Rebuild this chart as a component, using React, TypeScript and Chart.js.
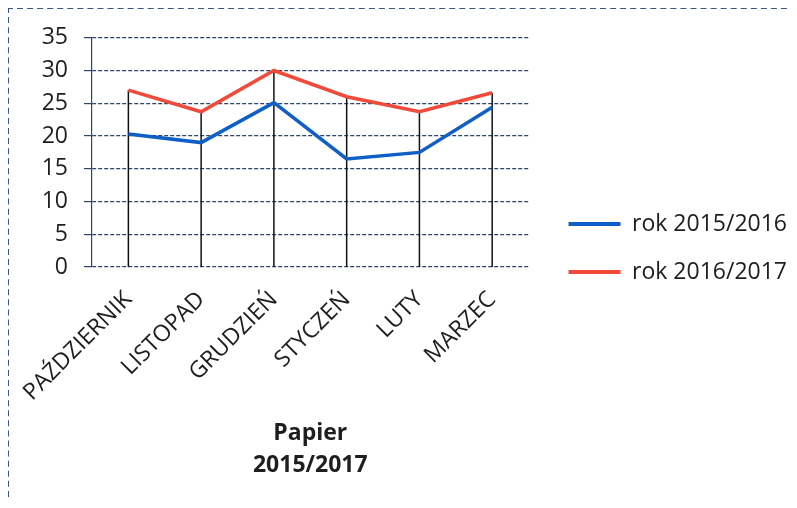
import React, { useEffect, useRef } from 'react';
import { Chart, registerables } from 'chart.js';

Chart.register(...registerables);

const categories = ['PAŹDZIERNIK', 'LISTOPAD', 'GRUDZIEŃ', 'STYCZEŃ', 'LUTY', 'MARZEC'];
const series1Label = 'rok 2015/2016';
const series1 = [20.3, 19.0, 25.1, 16.5, 17.5, 24.4];
const series2Label = 'rok 2016/2017';
const series2 = [27.0, 23.7, 30.0, 26.0, 23.7, 26.6];
const yMin = 0;
const yMax = 35;
const yStep = 5;
const axisTitle = ['Papier', '2015/2017'];

const FONT = '"Open Sans", "Noto Sans", sans-serif';
const TEXT = '#1e1e1e';
const GRID = '#2f4466';
const BLUE = '#0f5fc6';
const RED = '#f04b3a';

const dropLines = {
  id: 'dropLines',
  beforeDatasetsDraw(chart: any) {
    const { ctx, scales } = chart;
    const x = scales.x;
    const y = scales.y;
    ctx.save();
    ctx.strokeStyle = '#111111';
    ctx.lineWidth = 1.5;
    categories.forEach((_, i) => {
      const top = Math.max(series1[i], series2[i]);
      const px = x.getPixelForValue(i);
      ctx.beginPath();
      ctx.moveTo(px, y.getPixelForValue(top));
      ctx.lineTo(px, y.getPixelForValue(0));
      ctx.stroke();
    });
    ctx.restore();
  },
};

export default function App() {
  const ref = useRef<HTMLCanvasElement | null>(null);

  useEffect(() => {
    if (!ref.current) return;
    const chart = new Chart(ref.current, {
      type: 'line',
      data: {
        labels: categories,
        datasets: [
          {
            label: series1Label,
            data: series1,
            borderColor: BLUE,
            backgroundColor: BLUE,
            borderWidth: 3.5,
            pointRadius: 0,
            tension: 0,
          },
          {
            label: series2Label,
            data: series2,
            borderColor: RED,
            backgroundColor: RED,
            borderWidth: 3.5,
            pointRadius: 0,
            tension: 0,
          },
        ],
      },
      options: {
        animation: false,
        responsive: false,
        devicePixelRatio: 1,
        layout: { padding: { top: 0, bottom: 12, left: 0, right: 0 } },
        plugins: {
          tooltip: { enabled: false },
          legend: {
            position: 'right',
            align: 'center',
            maxWidth: 320,
            labels: {
              boxWidth: 52,
              boxHeight: 4,
              padding: 25,
              color: TEXT,
              font: { family: FONT, size: 23 },
              generateLabels: (c: any) =>
                (Chart.defaults.plugins.legend.labels as any)
                  .generateLabels(c)
                  .map((l: any) => ({ ...l, lineWidth: 0 })),
            },
          },
        },
        scales: {
          x: {
            type: 'category',
            offset: true,
            grid: { display: false, drawTicks: false },
            border: { display: false },
            ticks: {
              color: TEXT,
              font: { family: FONT, size: 23 },
              maxRotation: 45,
              minRotation: 45,
              autoSkip: false,
              padding: 19,
            },
            title: {
              display: true,
              text: axisTitle,
              color: TEXT,
              font: { family: FONT, size: 23, weight: 'bold', lineHeight: '32px' },
              padding: { top: 0, bottom: 7 },
            },
            afterFit: (s: any) => {
              s.height = 221;
              s.paddingLeft = 0;
              s.paddingRight = 0;
            },
          },
          xTop: {
            type: 'linear',
            position: 'top',
            display: true,
            grid: { display: false, drawTicks: false },
            border: { display: false },
            ticks: { display: false },
            afterFit: (s: any) => {
              s.height = 29.5;
            },
          },
          y: {
            type: 'linear',
            min: yMin,
            max: yMax,
            ticks: {
              stepSize: yStep,
              color: TEXT,
              font: { family: FONT, size: 23 },
              padding: 16,
            },
            grid: {
              color: GRID,
              lineWidth: 1.2,
              tickLength: 8,
              drawTicks: true,
            },
            border: { display: true, color: GRID, width: 1.2, dash: [4, 2] },
            afterFit: (s: any) => {
              s.width = 84;
            },
          },
          yRight: {
            type: 'linear',
            position: 'right',
            display: true,
            grid: { display: false, drawTicks: false },
            border: { display: false },
            ticks: { display: false },
            afterFit: (s: any) => {
              s.width = 15;
            },
          },
        },
      },
      plugins: [dropLines],
    } as any);
    return () => chart.destroy();
  }, []);

  return (
    <div style={{ position: 'relative', width: 789, height: 492 }}>
      <div
        style={{
          position: 'absolute',
          left: -1,
          top: -1,
          width: 790,
          height: 500,
          boxSizing: 'border-box',
          borderTop: '2px dashed #3a5680',
          borderLeft: '2px dashed #3a5680',
        }}
      />
      <canvas ref={ref} width={789} height={492} style={{ position: 'absolute', left: 0, top: 0 }} />
    </div>
  );
}
